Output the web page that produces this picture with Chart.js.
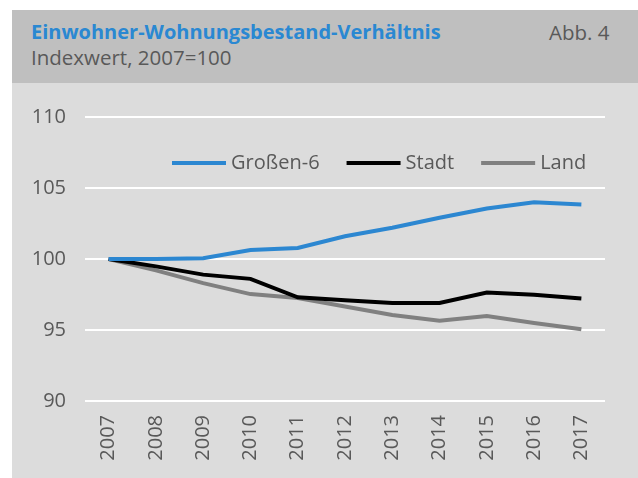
<!DOCTYPE html>
<html>
<head>
<meta charset="utf-8">
<script src="https://cdn.jsdelivr.net/npm/chart.js@4/dist/chart.umd.min.js"></script>
<style>
  html, body { margin: 0; padding: 0; background: #ffffff; width: 638px; height: 478px; overflow: hidden; }
  #header { position: absolute; left: 12px; top: 10px; width: 626px; height: 73px; background: #bfbfbf; font-family: "Open Sans", sans-serif; }
  #panel { position: absolute; left: 12px; top: 83px; width: 626px; height: 395px; background: #dcdcdc; }
  .t { position: absolute; line-height: 20px; white-space: nowrap; }
  #title { left: 19px; top: 12px; font-size: 20px; font-weight: bold; color: #2a88d2; }
  #subtitle { left: 19px; top: 37px; font-size: 20.5px; color: #595959; }
  #abb { left: 537px; top: 12px; font-size: 20.5px; color: #595959; }
  canvas { position: absolute; left: 0; top: 0; }
</style>
</head>
<body>
<div id="header">
  <div class="t" id="title">Einwohner-Wohnungsbestand-Verhältnis</div>
  <div class="t" id="subtitle">Indexwert, 2007=100</div>
  <div class="t" id="abb">Abb. 4</div>
</div>
<div id="panel"><canvas id="c" width="626" height="395"></canvas></div>
<script>
const categories = ['2007','2008','2009','2010','2011','2012','2013','2014','2015','2016','2017'];
const grossen6 = [100, 100, 100.05, 100.64, 100.78, 101.6, 102.2, 102.9, 103.55, 104.0, 103.84];
const stadt    = [100, 99.48, 98.9, 98.6, 97.3, 97.1, 96.9, 96.9, 97.64, 97.48, 97.22];
const land     = [100, 99.2, 98.3, 97.53, 97.25, 96.65, 96.05, 95.65, 95.98, 95.5, 95.05];
const seriesNames = ['Großen-6', 'Stadt', 'Land'];
const yMin = 90, yMax = 110, yStep = 5;

const FONT = '"Open Sans", sans-serif';
const TXT = '#595959';

const legendPlugin = {
  id: 'inlineLegend',
  afterDraw(chart) {
    const ctx = chart.ctx;
    const area = chart.chartArea;
    let x = area.left + 87;
    const y = area.top + 46;
    ctx.save();
    ctx.font = '20px ' + FONT;
    ctx.textBaseline = 'middle';
    ctx.textAlign = 'left';
    chart.data.datasets.forEach(ds => {
      ctx.strokeStyle = ds.borderColor;
      ctx.lineWidth = 4;
      ctx.beginPath();
      ctx.moveTo(x, y);
      ctx.lineTo(x + 54, y);
      ctx.stroke();
      x += 59;
      ctx.fillStyle = TXT;
      ctx.fillText(ds.label, x, y);
      x += ctx.measureText(ds.label).width + 27;
    });
    ctx.restore();
  }
};

new Chart(document.getElementById('c'), {
  type: 'line',
  data: {
    labels: categories,
    datasets: [
      { label: seriesNames[0], data: grossen6, borderColor: '#2c87d1', backgroundColor: '#2c87d1' },
      { label: seriesNames[1], data: stadt, borderColor: '#000000', backgroundColor: '#000000' },
      { label: seriesNames[2], data: land, borderColor: '#808080', backgroundColor: '#808080' }
    ]
  },
  options: {
    responsive: false,
    devicePixelRatio: 1,
    animation: false,
    layout: { padding: { top: 34, right: 33, left: 0, bottom: 0 } },
    elements: {
      line: { borderWidth: 4, tension: 0, fill: false },
      point: { radius: 0, hoverRadius: 0 }
    },
    plugins: {
      legend: { display: false },
      tooltip: { enabled: false }
    },
    scales: {
      x: {
        type: 'category',
        offset: true,
        grid: { display: false, drawTicks: false },
        border: { display: false },
        ticks: { color: TXT, font: { family: FONT, size: 20 }, minRotation: 90, maxRotation: 90, padding: 14, autoSkip: false },
        afterFit: s => { s.height = 77; }
      },
      y: {
        min: yMin, max: yMax,
        grid: { color: '#ffffff', lineWidth: 2, drawTicks: false },
        border: { display: false },
        ticks: { stepSize: yStep, color: TXT, font: { family: FONT, size: 20 }, padding: 19 },
        afterFit: s => { s.width = 73; }
      }
    }
  },
  plugins: [legendPlugin]
});
</script>
</body>
</html>
